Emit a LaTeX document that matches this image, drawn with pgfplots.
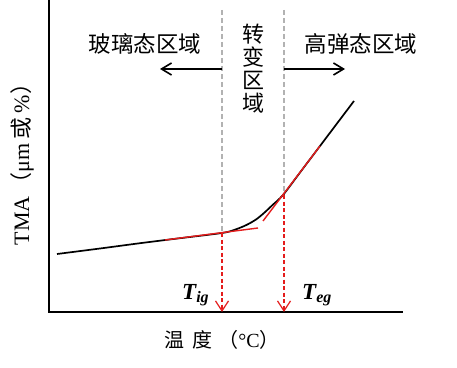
\documentclass[border=0pt]{standalone}
\usepackage{pgfplots}
\pgfplotsset{compat=1.18}
\usetikzlibrary{arrows.meta}
\usepackage{fontspec}
\setmainfont{Liberation Serif}
\newfontfamily\cjk{Noto Sans CJK SC}
\definecolor{myred}{RGB}{228,28,28}
\begin{document}
\begin{tikzpicture}[x=1pt,y=1pt]
\path[use as bounding box] (0,0) rectangle (457,367);
\begin{axis}[
  at={(49pt,55pt)}, anchor=south west,
  scale only axis, width=353pt, height=312pt,
  xmin=49, xmax=402, ymin=0, ymax=312,
  axis lines=left,
  axis line style={-, line width=2.6pt, line cap=rect},
  xtick=\empty, ytick=\empty,
  clip=false,
]
% gray dashed guide lines
\addplot[gray!60, dash pattern=on 5pt off 3pt, line width=1.1pt] coordinates {(222,302) (222,79)};
\addplot[gray!60, dash pattern=on 5pt off 3pt, line width=1.1pt] coordinates {(284,302) (284,117)};
% main curve
\addplot[black, line width=1.7pt, smooth] coordinates {
(57,58) (100,63.5) (140,68.8) (180,73.8) (222,79) (234,82) (246,86.8) (256,92.5) (264,99) (272,106.5) (283,117) (300,139.5) (320,166) (340,192.5) (354,211)};
% tangents
\addplot[myred, line width=1.4pt] coordinates {(165,72) (258,84)};
\addplot[myred, line width=1.4pt] coordinates {(263,91) (320,166)};
% red dashed arrows
\draw[myred, line width=1.2pt, dash pattern=on 4pt off 2.5pt, -{Straight Barb[length=10pt,width=13pt,line width=1.2pt]}] (axis cs:222,79) -- (axis cs:222,0);
\draw[myred, line width=1.2pt, dash pattern=on 4pt off 2.5pt, -{Straight Barb[length=10pt,width=13pt,line width=1.2pt]}] (axis cs:284,117) -- (axis cs:284,0);
% black arrows
\draw[black, line width=1.6pt, -{Straight Barb[length=10pt,width=12pt]}] (axis cs:222,243) -- (axis cs:160,243);
\draw[black, line width=1.6pt, -{Straight Barb[length=10pt,width=12pt]}] (axis cs:284,243) -- (axis cs:345,243);
\end{axis}
% region labels
\node[font=\cjk\fontsize{22.5}{24}\selectfont] at (145,323) {玻璃态区域};
\node[font=\cjk\fontsize{22.5}{24}\selectfont] at (361,323) {高弹态区域};
\node[font=\cjk\fontsize{22}{24}\selectfont] at (253,333) {转};
\node[font=\cjk\fontsize{22}{24}\selectfont] at (253,310) {变};
\node[font=\cjk\fontsize{22}{24}\selectfont] at (253,287) {区};
\node[font=\cjk\fontsize{22}{24}\selectfont] at (253,264) {域};
% axis labels
\node[rotate=90, font=\fontsize{22}{24}\selectfont] at (22,208) {TMA\hspace{2pt}{\cjk（}μm\hspace{4pt}{\cjk 或}\hspace{4pt}\%{\cjk ）}};
\node[font=\fontsize{20}{22}\selectfont] at (222,27) {{\cjk 温\hspace{8pt}度\hspace{6pt}（}°C{\cjk ）}};
% T labels
\node[anchor=base west, inner sep=0pt, font=\fontsize{23}{26}\selectfont\bfseries\itshape] at (182,68) {T\raisebox{-3pt}{\fontsize{16}{18}\selectfont ig}};
\node[anchor=base west, inner sep=0pt, font=\fontsize{23}{26}\selectfont\bfseries\itshape] at (302,68) {T\raisebox{-3pt}{\fontsize{16}{18}\selectfont eg}};
\end{tikzpicture}
\end{document}
